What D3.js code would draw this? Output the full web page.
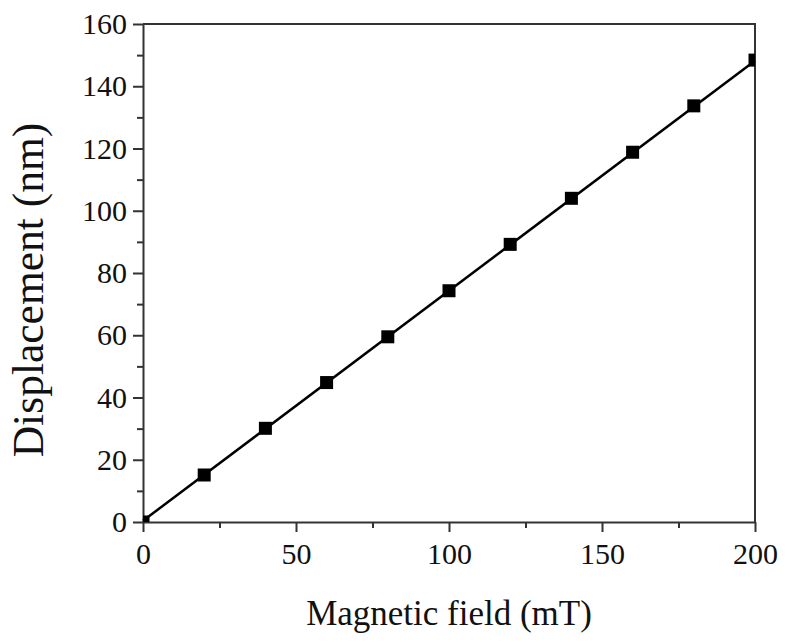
<!DOCTYPE html>
<html>
<head>
<meta charset="utf-8">
<script src="https://cdn.jsdelivr.net/npm/d3@7"></script>
<style>
  body { margin: 0; background: #fff; }
</style>
</head>
<body>
<div id="chart"></div>
<script>
// Measured data (magnetic field in mT, displacement in nm)
const field = [0, 20, 40, 60, 80, 100, 120, 140, 160, 180, 200];
const displacement = [0, 15.1, 30.1, 44.8, 59.5, 74.3, 89.2, 104.0, 118.8, 133.7, 148.4];

// Linear fit line end points
const fitField = [0, 200];
const fitDisplacement = [0.4, 148.2];

const xTicks = [0, 50, 100, 150, 200];
const xMinorTicks = [25, 75, 125, 175];
const yTicks = [0, 20, 40, 60, 80, 100, 120, 140, 160];
const yMinorTicks = [10, 30, 50, 70, 90, 110, 130, 150];

const serif = '"Liberation Serif", "Times New Roman", serif';

const containerWidth = 787;
const containerHeight = 642;
const margin = { top: 24, right: 32, bottom: 120, left: 143 };
const width = containerWidth - margin.left - margin.right;
const height = containerHeight - margin.top - margin.bottom;

const svg = d3.select("#chart")
  .append("svg")
  .attr("width", containerWidth)
  .attr("height", containerHeight)
  .attr("font-family", serif);

const chart = svg.append("g")
  .attr("transform", `translate(${margin.left},${margin.top})`);

const xScale = d3.scaleLinear().domain([0, 200]).range([0, width]);
const yScale = d3.scaleLinear().domain([0, 160]).range([height, 0]);

svg.append("defs").append("clipPath")
  .attr("id", "plot-clip")
  .append("rect")
  .attr("width", width)
  .attr("height", height);

const axisColour = "#333";

// Minor ticks (no labels)
chart.append("g")
  .attr("transform", `translate(0,${height})`)
  .call(d3.axisBottom(xScale).tickValues(xMinorTicks).tickSize(6).tickFormat(""))
  .call(g => g.select(".domain").remove())
  .call(g => g.selectAll("line").attr("stroke", axisColour).attr("stroke-width", 2));

chart.append("g")
  .call(d3.axisLeft(yScale).tickValues(yMinorTicks).tickSize(6).tickFormat(""))
  .call(g => g.select(".domain").remove())
  .call(g => g.selectAll("line").attr("stroke", axisColour).attr("stroke-width", 2));

// Major axes
chart.append("g")
  .attr("transform", `translate(0,${height})`)
  .call(d3.axisBottom(xScale).tickValues(xTicks).tickSize(10).tickSizeOuter(0).tickPadding(11))
  .attr("font-family", serif)
  .attr("font-size", 30)
  .call(g => g.select(".domain").attr("stroke", axisColour).attr("stroke-width", 2))
  .call(g => g.selectAll("line").attr("stroke", axisColour).attr("stroke-width", 2))
  .call(g => g.selectAll("text").attr("fill", "#111"));

chart.append("g")
  .call(d3.axisLeft(yScale).tickValues(yTicks).tickSize(10).tickSizeOuter(0).tickPadding(6))
  .attr("font-family", serif)
  .attr("font-size", 30)
  .call(g => g.select(".domain").attr("stroke", axisColour).attr("stroke-width", 2))
  .call(g => g.selectAll("line").attr("stroke", axisColour).attr("stroke-width", 2))
  .call(g => g.selectAll("text").attr("fill", "#111"));

// Top and right frame
chart.append("path")
  .attr("d", `M0,0H${width}V${height}`)
  .attr("fill", "none")
  .attr("stroke", axisColour)
  .attr("stroke-width", 2);

// Fit line
const fitData = fitField.map((f, i) => ({ x: f, y: fitDisplacement[i] }));
chart.append("path")
  .datum(fitData)
  .attr("fill", "none")
  .attr("stroke", "#000")
  .attr("stroke-width", 2.5)
  .attr("d", d3.line().x(d => xScale(d.x)).y(d => yScale(d.y)));

// Square markers
const markerSize = 13;
chart.append("g")
  .attr("clip-path", "url(#plot-clip)")
  .selectAll("rect")
  .data(field.map((f, i) => ({ x: f, y: displacement[i] })))
  .join("rect")
  .attr("x", d => xScale(d.x) - markerSize / 2)
  .attr("y", d => yScale(d.y) - markerSize / 2)
  .attr("width", markerSize)
  .attr("height", markerSize)
  .attr("fill", "#000");

// Axis labels
svg.append("text")
  .attr("x", margin.left + width / 2)
  .attr("y", 625)
  .attr("text-anchor", "middle")
  .attr("fill", "#111")
  .style("font-size", "35px")
  .text("Magnetic field (mT)");

svg.append("text")
  .attr("transform", `translate(43,${290}) rotate(-90)`)
  .attr("text-anchor", "middle")
  .attr("fill", "#111")
  .style("font-size", "43.5px")
  .text("Displacement (nm)");
</script>
</body>
</html>
